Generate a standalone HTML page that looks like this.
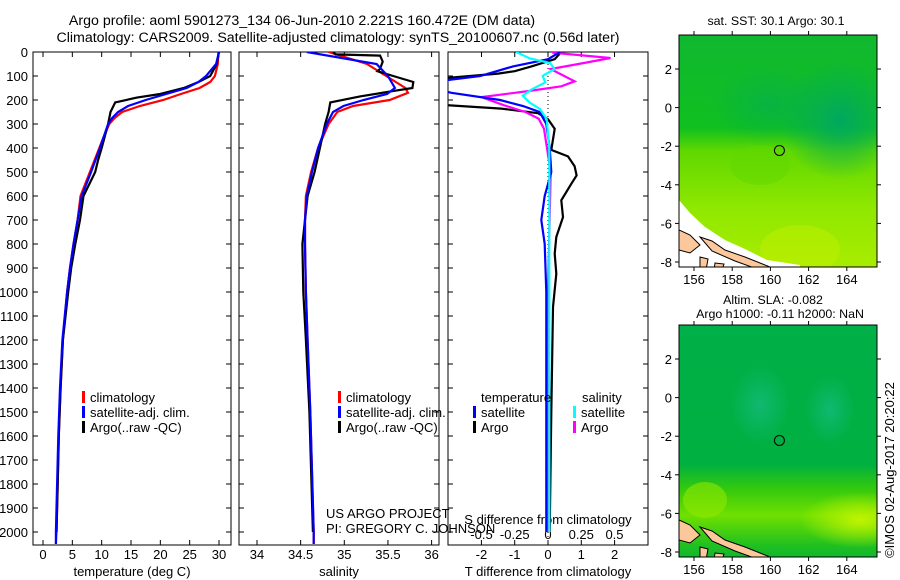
<!DOCTYPE html>
<html><head><meta charset="utf-8"><style>
html,body{margin:0;padding:0;background:#fff;}
svg{display:block;font-family:"Liberation Sans",sans-serif;}
text{font-size:13px;fill:#000;}
</style></head><body>
<svg id="c" width="900" height="580" viewBox="0 0 900 580">
<defs>
<clipPath id="cp1"><rect x="33" y="52" width="198" height="493"/></clipPath>
<clipPath id="cp2"><rect x="239" y="52" width="200" height="493"/></clipPath>
<clipPath id="cp3"><rect x="448" y="52" width="200" height="493"/></clipPath>
<clipPath id="cm1"><rect x="679" y="35" width="198" height="232"/></clipPath>
<clipPath id="cm2"><rect x="679" y="325" width="198" height="232"/></clipPath>
<linearGradient id="g1" x1="0" y1="0" x2="0" y2="1">
<stop offset="0" stop-color="#10b830"/><stop offset="0.4" stop-color="#10c020"/><stop offset="0.5" stop-color="#60d800"/><stop offset="0.75" stop-color="#90e800"/><stop offset="1" stop-color="#a8ec00"/></linearGradient>
<radialGradient id="t1" cx="0.5" cy="0.5" r="0.5"><stop offset="0" stop-color="#00a860"/><stop offset="1" stop-color="#00a860" stop-opacity="0"/></radialGradient>
<linearGradient id="g2" x1="0" y1="0" x2="0" y2="1">
<stop offset="0" stop-color="#00b048"/><stop offset="0.6" stop-color="#00b040"/><stop offset="0.7" stop-color="#30c810"/><stop offset="0.82" stop-color="#70e000"/><stop offset="0.95" stop-color="#20c020"/><stop offset="1" stop-color="#10b830"/></linearGradient>
<radialGradient id="y2" cx="0.5" cy="0.5" r="0.5"><stop offset="0" stop-color="#c0f400"/><stop offset="1" stop-color="#c0f400" stop-opacity="0"/></radialGradient>
<radialGradient id="t2" cx="0.5" cy="0.5" r="0.5"><stop offset="0" stop-color="#10b870"/><stop offset="1" stop-color="#10b870" stop-opacity="0"/></radialGradient>
</defs>
<g id="titles">
<text x="302" y="25" text-anchor="middle" style="font-size:14.2px">Argo profile: aoml 5901273_134 06-Jun-2010 2.221S 160.472E (DM data)</text>
<text x="338" y="42" text-anchor="middle" style="font-size:14.2px">Climatology: CARS2009. Satellite-adjusted climatology: synTS_20100607.nc (0.56d later)</text>
</g>
<g id="maps"></g>
<g id="panels"></g>
</svg>
<script>
// ---- data (depth in dbar) ----
const tClimDepth = [0,50,100,125,150,175,200,225,250,275,300,350,400,500,600,700,800,900,1000,1200,1400,1600,1800,2000,2050];
const tClim      = [29.9,29.8,29.3,28.5,26.7,23.5,20.5,16.5,13.5,12.2,11.3,10.4,9.6,8.0,6.4,5.9,5.2,4.6,4.1,3.4,3.0,2.7,2.5,2.3,2.2];
const tSatDepth  = [0,50,100,125,150,175,200,225,250,275,300,350,400,500,600,700,800,900,1000,1200,1400,1600,1800,2000,2050];
const tSat       = [30.0,29.5,27.8,26.5,24.5,21.0,17.5,14.5,12.8,11.8,11.1,10.4,9.7,8.2,6.6,5.9,5.2,4.6,4.1,3.3,2.9,2.6,2.4,2.2,2.2];
const tArgoDepth = [0,50,100,125,150,175,190,210,250,300,400,450,500,600,700,800,900,1000,1200,1400,1600,1800,2000];
const tArgo      = [30.0,29.6,28.5,26.5,24.0,20.0,16.0,12.3,11.5,11.1,10.0,9.4,8.9,6.9,6.3,5.5,4.8,4.3,3.4,3.0,2.7,2.5,2.3];

const sClimDepth = [0,50,100,150,170,200,225,250,300,400,500,600,700,800,1000,1200,1500,2000,2050];
const sClim      = [34.82,35.26,35.48,35.70,35.73,35.52,35.10,34.92,34.82,34.70,34.62,34.56,34.55,34.55,34.56,34.58,34.61,34.65,34.65];
const sSatDepth  = [0,50,100,150,175,200,225,250,300,400,500,600,700,800,1000,1200,1500,2000,2050];
const sSat       = [34.57,35.37,35.50,35.58,35.49,35.22,34.99,34.87,34.80,34.70,34.63,34.57,34.55,34.55,34.56,34.58,34.61,34.65,34.65];
const sArgoDepth = [0,10,15,40,70,80,100,125,150,165,185,210,250,300,400,500,600,800,1000,1200,1500,2000];
const sArgo      = [34.87,34.90,35.41,35.44,35.41,35.38,35.56,35.79,35.78,35.52,35.18,34.84,34.82,34.78,34.72,34.66,34.58,34.52,34.53,34.56,34.60,34.64];

const dTSatDepth = [0,30,60,100,120,150,170,200,225,250,300,400,500,600,700,800,1000,1500,2000];
const dTSat      = [0.36,0.0,-1.05,-2.04,-3.2,-3.5,-2.9,-1.44,-0.75,-0.25,-0.05,0.05,0.1,-0.1,-0.2,-0.1,-0.05,-0.05,-0.05];
const dTArgoDepth= [0,30,60,80,90,110,130,210,220,236,255,280,320,408,435,476,514,549,618,688,771,840,924,1063,1500,2000];
const dTArgo     = [0.4,0.2,-0.5,-1.0,-1.5,-3.2,-3.5,-3.5,-3.2,-1.4,-0.3,0.0,0.2,0.1,0.6,0.8,0.86,0.7,0.4,0.45,0.25,0.2,0.25,0.15,0.1,0.05];
const dSSatDepth = [0,27,46,71,99,127,155,182,210,238,280,400,1000,2000];
const dSSat      = [-0.24,-0.135,0.015,0.05,-0.04,-0.02,-0.12,-0.19,-0.14,-0.06,-0.01,0.01,0.01,0.01];
const dSArgoDepth= [0,3,25,46,71,88,122,143,163,188,222,250,278,320,500,1000,2000];
const dSArgo     = [0.04,0.04,0.47,0.27,0.02,0.08,0.2,0.1,-0.15,-0.5,-0.33,-0.17,-0.07,-0.03,0.02,0.0,0.0];

const depthTicks = [0,100,200,300,400,500,600,700,800,900,1000,1100,1200,1300,1400,1500,1600,1700,1800,1900,2000];
const tempTicks = [0,5,10,15,20,25,30];
const salTicks = [34,34.5,35,35.5,36];
const salTickLabels = ["34","34.5","35","35.5","36"];
const dTTicks = [-2,-1,0,1,2];
const dSTicks = [-0.5,-0.25,0,0.25,0.5];
const dSTickLabels = ["-0.5","-0.25","0","0.25","0.5"];
const mapLonTicks = [156,158,160,162,164];
const mapLatTicks = [2,0,-2,-4,-6,-8];
const floatLon = 160.472, floatLat = -2.221;

// ---- axis functions ----
const yD = d => 52 + d*0.24;
const xT = t => 43 + t*5.867;
const xS = s => 257 + (s-34)*87.3;
const xdT = v => 548 + v*33.3;
const xdS = v => 548 + v*133;
const xLon = l => 694 + (l-156)*19.1;
const yLat1 = l => 69 + (2-l)*19.3;
const yLat2 = l => 359 + (2-l)*19.3;

const NS="http://www.w3.org/2000/svg";
function mk(tag, attrs, parent){const e=document.createElementNS(NS,tag);for(const k in attrs)e.setAttribute(k,attrs[k]);parent.appendChild(e);return e;}
const P=document.getElementById('panels');

function line(xs, ds, fx, color, clip, name){
  const pts = xs.map((v,i)=>fx(v).toFixed(1)+","+yD(ds[i]).toFixed(1)).join(" ");
  const el = mk('polyline',{points:pts,fill:'none',stroke:color,'stroke-width':2.2,'clip-path':'url(#'+clip+')'},P);
  
  
}
function txt(x,y,s,anchor,parent,name){const t=mk('text',{x:x,y:y,'text-anchor':anchor||'start'},parent||P);t.textContent=s;
  
  
  return t;}

function panel(x0,x1,name){
  const r=mk('rect',{x:x0,y:52,width:x1-x0,height:493,fill:'none',stroke:'#000','stroke-width':1},P);
  
  
  depthTicks.forEach(d=>{
    mk('line',{x1:x0,x2:x0+5,y1:yD(d),y2:yD(d),stroke:'#000'},P);
    mk('line',{x1:x1-5,x2:x1,y1:yD(d),y2:yD(d),stroke:'#000'},P);
  });
}
panel(33,231,'temperature-panel');
panel(239,439,'salinity-panel');
panel(448,648,'difference-panel');
depthTicks.forEach(d=>txt(28,yD(d)+5,String(d),'end',P,'depth-tick-label'));

tempTicks.forEach(t=>{mk('line',{x1:xT(t),x2:xT(t),y1:545,y2:540,stroke:'#000'},P);mk('line',{x1:xT(t),x2:xT(t),y1:52,y2:57,stroke:'#000'},P);txt(xT(t),559,String(t),'middle',P,'temperature-tick-label');});
salTicks.forEach((s,i)=>{mk('line',{x1:xS(s),x2:xS(s),y1:545,y2:540,stroke:'#000'},P);mk('line',{x1:xS(s),x2:xS(s),y1:52,y2:57,stroke:'#000'},P);txt(xS(s),559,salTickLabels[i],'middle',P,'salinity-tick-label');});
dTTicks.forEach(t=>{mk('line',{x1:xdT(t),x2:xdT(t),y1:545,y2:540,stroke:'#000'},P);txt(xdT(t),559,String(t),'middle',P,'t-diff-tick-label');});
dSTicks.forEach((s,i)=>{mk('line',{x1:xdS(s),x2:xdS(s),y1:52,y2:57,stroke:'#000'},P);txt(xdS(s),539,dSTickLabels[i],'middle',P,'s-diff-tick-label');});
txt(132,576,'temperature (deg C)','middle',P,'temperature-axis-title');
txt(339,576,'salinity','middle',P,'salinity-axis-title');
txt(548,576,'T difference from climatology','middle',P,'t-diff-axis-title');
txt(548,524,'S difference from climatology','middle',P,'s-diff-axis-title');
mk('line',{x1:548,x2:548,y1:52,y2:545,stroke:'#000','stroke-dasharray':'1,3'},P);

line(tClim,tClimDepth,xT,'#ff0000','cp1','temp-climatology-line');
line(tArgo,tArgoDepth,xT,'#000000','cp1','temp-argo-line');
line(tSat,tSatDepth,xT,'#0000ff','cp1','temp-satellite-line');
line(sClim,sClimDepth,xS,'#ff0000','cp2','sal-climatology-line');
line(sArgo,sArgoDepth,xS,'#000000','cp2','sal-argo-line');
line(sSat,sSatDepth,xS,'#0000ff','cp2','sal-satellite-line');
line(dTArgo,dTArgoDepth,xdT,'#000000','cp3','tdiff-argo-line');
line(dSArgo,dSArgoDepth,xdS,'#ff00ff','cp3','sdiff-argo-line');
line(dTSat,dTSatDepth,xdT,'#0000ff','cp3','tdiff-satellite-line');
line(dSSat,dSSatDepth,xdS,'#00ffff','cp3','sdiff-satellite-line');

function leg(x,y,color,label){mk('rect',{x:x,y:y-11,width:3,height:12,fill:color},P);txt(x+8,y,label,'start',P,'legend-entry');}
leg(82,402,'#ff0000','climatology');leg(82,417,'#0000ff','satellite-adj. clim.');leg(82,432,'#000000','Argo(..raw -QC)');
leg(338,402,'#ff0000','climatology');leg(338,417,'#0000ff','satellite-adj. clim.');leg(338,432,'#000000','Argo(..raw -QC)');
txt(481,402,'temperature','start',P,'legend-temperature-header');
txt(582,402,'salinity','start',P,'legend-salinity-header');
leg(473,417,'#0000ff','satellite');leg(473,432,'#000000','Argo');
leg(573,417,'#00ffff','satellite');leg(573,432,'#ff00ff','Argo');
txt(326,518,'US ARGO PROJECT','start',P,'project-label');
txt(326,533,'PI: GREGORY C. JOHNSON','start',P,'pi-label');

const M=document.getElementById('maps');
function map(y0,yLat,which){
  const g=mk('g',{'clip-path':'url(#'+(which==1?'cm1':'cm2')+')'},M);
  
  
  mk('rect',{x:679,y:y0,width:198,height:232,fill:which==1?'url(#g1)':'url(#g2)'},g);
  if(which==1){
    mk('ellipse',{cx:840,cy:y0+85,rx:60,ry:60,fill:'url(#t1)'},g);
    mk('ellipse',{cx:770,cy:y0+70,rx:60,ry:40,fill:'url(#t1)',opacity:0.5},g);
    mk('ellipse',{cx:760,cy:y0+130,rx:30,ry:20,fill:'#60d800',opacity:0.5},g);
    mk('ellipse',{cx:800,cy:y0+215,rx:40,ry:25,fill:'#c0f000',opacity:0.5},g);
    mk('polygon',{points:`679,${y0+165} 690,${y0+178} 705,${y0+192} 725,${y0+205} 745,${y0+214} 767,${y0+225} 800,${y0+230} 800,${y0+235} 679,${y0+235}`,fill:'#ffffff'},g);
  } else {
    mk('ellipse',{cx:760,cy:y0+80,rx:30,ry:40,fill:'url(#t2)'},g);
    mk('ellipse',{cx:830,cy:y0+85,rx:25,ry:35,fill:'url(#t2)'},g);
    mk('ellipse',{cx:860,cy:y0+195,rx:60,ry:28,fill:'url(#y2)'},g);
    mk('ellipse',{cx:705,cy:y0+175,rx:22,ry:18,fill:'#90e800',opacity:0.6},g);
  }
  mk('polygon',{points:`679,${y0+195} 690,${y0+200} 700,${y0+210} 690,${y0+218} 679,${y0+215}`,fill:'#fcc89b',stroke:'#000','stroke-width':1},g);
  mk('polygon',{points:`700,${y0+202} 712,${y0+206} 725,${y0+215} 745,${y0+222} 770,${y0+232} 760,${y0+235} 735,${y0+226} 712,${y0+216}`,fill:'#fcc89b',stroke:'#000','stroke-width':1},g);
  mk('polygon',{points:`700,${y0+222} 708,${y0+224} 706,${y0+235} 700,${y0+235}`,fill:'#fcc89b',stroke:'#000','stroke-width':1},g);
  mk('polygon',{points:`715,${y0+228} 724,${y0+229} 722,${y0+235} 714,${y0+235}`,fill:'#fcc89b',stroke:'#000','stroke-width':1},g);
  const c=mk('circle',{cx:xLon(floatLon),cy:yLat(floatLat),r:5,fill:'none',stroke:'#000','stroke-width':1},M);
  
  
  const fr=mk('rect',{x:679,y:y0,width:198,height:232,fill:'none',stroke:'#000'},M);
  
  
  mapLonTicks.forEach(l=>{mk('line',{x1:xLon(l),x2:xLon(l),y1:y0,y2:y0-4,stroke:'#000'},M);mk('line',{x1:xLon(l),x2:xLon(l),y1:y0+232,y2:y0+236,stroke:'#000'},M);txt(xLon(l),y0+249,String(l),'middle',M,'longitude-tick-label');});
  mapLatTicks.forEach(l=>{mk('line',{x1:679,x2:675,y1:yLat(l),y2:yLat(l),stroke:'#000'},M);mk('line',{x1:877,x2:881,y1:yLat(l),y2:yLat(l),stroke:'#000'},M);txt(672,yLat(l)+5,String(l),'end',M,'latitude-tick-label');});
}
map(35,yLat1,1);
map(325,yLat2,2);
const mt1=txt(776,25,'sat. SST: 30.1 Argo: 30.1','middle',M,'sst-map-title');mt1.style.fontSize='12.4px';
const mt2=txt(773,304,'Altim. SLA: -0.082','middle',M,'sla-map-title');mt2.style.fontSize='12.4px';
const mt3=txt(780,318,'Argo h1000: -0.11 h2000: NaN','middle',M,'sla-map-subtitle');mt3.style.fontSize='12.4px';
const cr=txt(0,0,'©IMOS 02-Aug-2017 20:20:22','middle',M,'imos-credit');
cr.setAttribute('transform','translate(894,470) rotate(-90)');
</script>
</body></html>
